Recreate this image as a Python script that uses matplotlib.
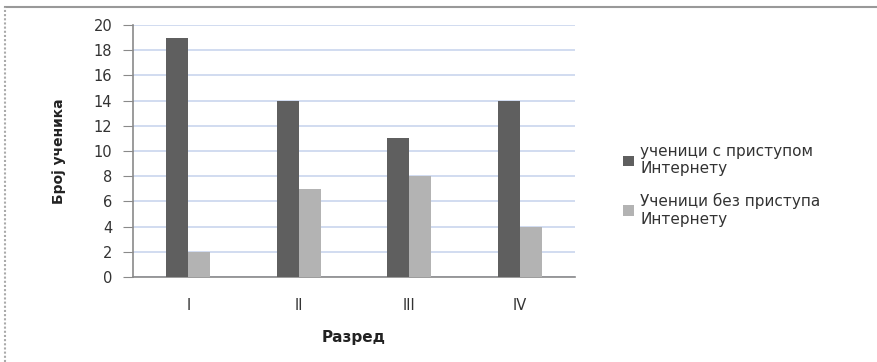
import matplotlib
matplotlib.use("Agg")
import matplotlib.pyplot as plt
import numpy as np

# data
grades = ["I", "II", "III", "IV"]
with_internet = [19, 14, 11, 14]
without_internet = [2, 7, 8, 4]
series_names = ["ученици с приступом\nИнтернету", "Ученици без приступа\nИнтернету"]

dark = "#5f5f5f"
light = "#b3b3b3"
grid_col = "#c9d6ee"
text_col = "#333333"

fig = plt.figure(figsize=(8.77, 3.62), dpi=100)
ax = fig.add_axes([0.1517, 0.2348, 0.504, 0.696])

x = np.arange(len(grades))
w = 0.2
b1 = ax.bar(x - w / 2, with_internet, w, color=dark, label=series_names[0], zorder=3)
b2 = ax.bar(x + w / 2, without_internet, w, color=light, label=series_names[1], zorder=3)

ax.set_xlim(-0.5, len(grades) - 0.5)
ax.set_ylim(0, 20)
ax.set_yticks(range(0, 21, 2))
ax.set_xticks(x)
ax.set_xticklabels(grades)
ax.yaxis.grid(True, color=grid_col, linewidth=1.2, zorder=0)
ax.set_axisbelow(True)

for s in ["top", "right"]:
    ax.spines[s].set_visible(False)
for s in ["left", "bottom"]:
    ax.spines[s].set_color("#8a8a8a")
    ax.spines[s].set_linewidth(1.2)

ax.tick_params(axis="y", direction="out", length=7, color="#8a8a8a",
               labelsize=10.5, labelcolor=text_col, pad=8)
ax.tick_params(axis="x", length=0, labelsize=10.5, labelcolor=text_col, pad=15)

ax.set_xlabel("Разред", fontsize=11, fontweight="bold", color="#222222", labelpad=12)
ax.set_ylabel("Број ученика", fontsize=10, fontweight="bold", color="#222222", labelpad=20)

fig.legend(handles=[b1, b2], loc="upper left", bbox_to_anchor=(0.695, 0.64),
           frameon=False, fontsize=11, handlelength=0.7, handleheight=0.7,
           handletextpad=0.4, labelspacing=1.1, labelcolor=text_col)

# outer frame of the pasted chart
fig.add_artist(plt.Line2D([0.006, 1.0], [0.981, 0.981], color="#999999", linewidth=1.5))
fig.add_artist(plt.Line2D([0.006, 0.006], [0.0, 0.981], color="#aaaaaa",
                          linewidth=1.5, linestyle=(0, (1, 1))))

fig.savefig("out.png", dpi=100)
